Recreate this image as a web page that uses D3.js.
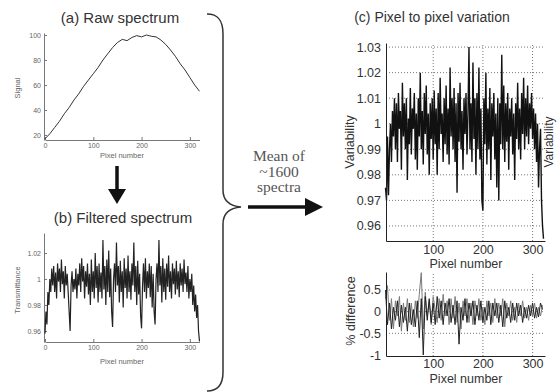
<!DOCTYPE html>
<html>
<head>
<meta charset="utf-8">
<script src="https://cdn.jsdelivr.net/npm/d3@7"></script>
<style>
  body { margin: 0; background: #fff; }
  svg { display: block; font-family: "Liberation Sans", Arial, sans-serif; }
</style>
</head>
<body>
<div id="fig"></div>
<script>
// ---- data ----
const rawStep = 10;   // pixel spacing of rawSignal samples
const rawSignal = [17, 21, 26, 31, 37, 42, 48, 53, 59, 64, 69, 74, 80, 85, 90, 94, 96.5, 95.5, 98,
  99.5, 98.5, 100, 99, 98.5, 96, 92.5, 88, 83, 77, 72, 66, 60, 55];
const rawTicksX = [0, 100, 200, 300];
const rawTicksY = [20, 40, 60, 80, 100];

const filtStep = 2;
const filtered = [0.958, 0.975, 0.965, 0.99, 0.98, 1.0, 0.99, 1.008, 0.995, 1.01, 0.99, 1.005, 0.985, 1.012, 0.998, 1.008,
  0.99, 1.015, 0.996, 1.006, 0.985, 1.01, 0.995, 1.004, 0.99, 0.975, 0.96, 0.995, 1.006, 0.99, 1.0, 0.992,
  1.008, 0.985, 1.004, 0.995, 1.012, 0.99, 1.016, 0.998, 1.01, 0.985, 1.006, 0.994, 1.012, 0.988, 1.004, 0.98,
  1.015, 0.99, 1.006, 0.985, 1.02, 0.993, 1.01, 0.982, 1.012, 0.99, 1.005, 0.985, 1.03, 0.992, 1.01, 0.98,
  1.015, 0.99, 1.022, 0.986, 1.008, 0.975, 0.963, 1.0, 1.012, 0.99, 1.028, 0.995, 1.01, 0.982, 1.014, 0.99,
  1.006, 0.978, 1.016, 0.993, 1.008, 0.985, 1.018, 0.99, 1.006, 0.984, 1.012, 0.995, 1.028, 0.99, 1.01, 0.98,
  1.014, 0.988, 1.004, 0.972, 0.962, 0.995, 1.012, 0.99, 1.016, 0.985, 1.006, 0.993, 1.012, 0.986, 1.01, 0.978,
  1.004, 0.975, 0.965, 1.0, 1.012, 0.99, 1.03, 0.995, 1.01, 0.982, 1.016, 0.99, 1.008, 0.984, 1.012, 0.994,
  1.018, 0.99, 1.006, 0.985, 1.012, 0.996, 1.008, 0.988, 1.014, 0.992, 1.006, 0.986, 1.012, 0.995, 1.008, 0.99,
  1.015, 0.996, 1.005, 0.99, 1.01, 0.985, 1.0, 0.99, 1.004, 0.98, 0.995, 0.975, 0.988, 0.97, 0.98, 0.96, 0.952];
const filtTicksY = [0.96, 0.98, 1, 1.02];

const varStart = 4, varStep = 2;
const variability = [0.975, 0.97, 0.995, 0.972, 0.99, 1.0, 0.985, 1.005, 0.995, 1.01, 0.99, 1.008, 0.985, 1.012, 0.998, 1.005,
  0.982, 1.016, 0.995, 1.008, 0.99, 1.01, 0.978, 1.002, 0.992, 1.014, 0.988, 1.006, 0.998, 1.012, 0.986, 1.004,
  0.982, 1.01, 0.995, 1.02, 0.99, 1.005, 0.984, 1.012, 0.996, 1.015, 0.988, 1.004, 0.98, 1.008, 0.994, 1.01,
  0.986, 1.013, 0.992, 1.006, 0.98, 1.012, 0.99, 1.018, 0.996, 1.004, 0.985, 1.01, 0.992, 1.015, 0.988, 1.006,
  0.984, 1.022, 0.995, 1.01, 0.99, 1.014, 0.985, 1.008, 0.973, 1.012, 0.993, 1.016, 0.99, 1.005, 0.982, 1.01,
  0.996, 1.012, 0.988, 1.004, 1.03, 0.99, 1.008, 0.985, 1.024, 0.994, 1.01, 0.98, 1.012, 0.99, 1.022, 0.986,
  1.006, 0.97, 0.966, 1.01, 0.992, 1.02, 0.984, 1.006, 0.99, 1.014, 0.978, 1.008, 0.995, 1.012, 0.986, 1.004,
  0.975, 1.01, 0.97, 1.008, 0.992, 1.027, 0.99, 1.015, 0.985, 1.008, 0.993, 1.012, 0.982, 1.006, 0.995, 1.01,
  0.988, 1.004, 0.978, 1.008, 0.994, 1.016, 0.99, 1.006, 0.986, 1.012, 0.996, 1.018, 0.99, 1.01, 0.995, 1.015,
  0.992, 1.008, 0.998, 1.012, 0.994, 1.006, 0.99, 1.004, 0.985, 1.0, 0.975, 0.99, 0.998, 0.97, 0.96, 0.955];
const varTicksY = [0.96, 0.97, 0.98, 0.99, 1, 1.01, 1.02, 1.03];
const pixTicks = [100, 200, 300];

const diffStart = 4, diffStep = 4;
const diffDark = [0.5, -0.3, 0.2, -0.4, 0.1, -0.2, 0.25, -0.35, 0.15, -0.25, 0.1, -0.45, 0.2, -0.3, 0.05, -0.35,
  0.25, -0.6, 0.3, -1.0, 0.35, -0.2, 0.3, -0.25, 0.2, -0.3, 0.35, -0.15, 0.25, -0.3, 0.2, -0.1,
  0.3, -0.25, 0.15, -0.3, 0.25, -0.75, 0.1, -0.2, 0.3, -0.25, 0.2, -0.1, 0.25, -0.3, 0.15, -0.2,
  0.25, -0.25, 0.1, -0.2, 0.25, -0.3, 0.2, -0.1, 0.2, -0.25, 0.15, -0.35, 0.25, -0.15, 0.1, -0.25,
  0.2, -0.2, 0.2, -0.1, 0.15, -0.25, 0.1, -0.15, 0.15, -0.1, 0.2, -0.15, 0.1, -0.12, 0.2, 0.05];
const diffGray = [0.3, 0.6, -0.2, 0.3, -0.4, 0.25, -0.1, 0.35, -0.45, 0.2, -0.2, 0.3, -0.25, 0.2, -0.35, 0.25,
  -0.15, 0.4, 0.9, -0.4, 0.45, -0.1, 0.25, -0.3, 0.35, 0.05, -0.25, 0.3, -0.2, 0.4, -0.1, 0.25,
  -0.3, 0.3, -0.15, 0.35, -0.25, 0.2, -0.4, 0.25, -0.1, 0.3, -0.25, 0.2, -0.3, 0.25, -0.1, 0.3,
  -0.2, 0.1, -0.3, 0.25, -0.1, 0.2, -0.25, 0.3, -0.15, 0.2, -0.1, 0.3, -0.35, 0.2, -0.1, 0.25,
  -0.2, 0.1, -0.25, 0.2, -0.1, 0.25, -0.15, 0.1, -0.2, 0.15, -0.1, 0.2, -0.15, 0.1, -0.1, 0.15];
const diffTicksY = [-1, -0.5, 0, 0.5];

// ---- svg ----
let width = 557, height = 392;
let svg = d3.select("#fig").append("svg")
  .attr("width", width)
  .attr("height", height);

let plain = d => String(d);

function styleSmallAxis(g) {
  g.selectAll("path, line").attr("stroke", "#777");
  g.selectAll("text").attr("font-size", 7).attr("fill", "#666");
}

function styleBigAxis(g) {
  g.selectAll("path").attr("stroke", "#222");
  g.selectAll("text").attr("font-size", 12.5).attr("fill", "#333");
}

// ---------- (a) raw spectrum ----------
let xa = d3.scaleLinear().domain([0, 320]).range([45, 199.5]);
let ya = d3.scaleLinear().domain([16, 101.6]).range([140, 33]);

svg.append("g").attr("transform", "translate(0,140)")
  .call(d3.axisBottom(xa).tickValues(rawTicksX).tickFormat(plain).tickSize(-3).tickSizeOuter(0).tickPadding(3))
  .call(styleSmallAxis);
svg.append("g").attr("transform", "translate(44,0)")
  .call(d3.axisLeft(ya).tickValues(rawTicksY).tickFormat(plain).tickSize(-3).tickSizeOuter(0).tickPadding(3))
  .call(styleSmallAxis);

svg.append("path")
  .datum(rawSignal)
  .attr("fill", "none")
  .attr("stroke", "#333")
  .attr("stroke-width", 1)
  .attr("d", d3.line().x((d, i) => xa(i * rawStep)).y(d => ya(d)));

svg.append("text").attr("x", 120).attr("y", 23).attr("text-anchor", "middle")
  .attr("font-size", 15).attr("fill", "#333").text("(a) Raw spectrum");
svg.append("text").attr("x", 122).attr("y", 158).attr("text-anchor", "middle")
  .attr("font-size", 7.5).attr("fill", "#666").text("Pixel number");
svg.append("text").attr("transform", "translate(20,88) rotate(-90)").attr("text-anchor", "middle")
  .attr("font-size", 7.5).attr("fill", "#666").text("Signal");

// down arrow
svg.append("line").attr("x1", 117).attr("x2", 117).attr("y1", 166).attr("y2", 191)
  .attr("stroke", "#111").attr("stroke-width", 3.5);
svg.append("path").attr("d", "M108,189 L126,189 L117,204 Z").attr("fill", "#111");

// ---------- (b) filtered spectrum ----------
let xb = d3.scaleLinear().domain([0, 320]).range([45, 199.5]);
let yb = d3.scaleLinear().domain([0.9515, 1.0354]).range([342, 233]);

svg.append("g").attr("transform", "translate(0,342)")
  .call(d3.axisBottom(xb).tickValues(rawTicksX).tickFormat(plain).tickSize(-3).tickSizeOuter(0).tickPadding(3))
  .call(styleSmallAxis);
svg.append("g").attr("transform", "translate(44,0)")
  .call(d3.axisLeft(yb).tickValues(filtTicksY).tickFormat(plain).tickSize(-3).tickSizeOuter(0).tickPadding(3))
  .call(styleSmallAxis);

svg.append("path")
  .datum(filtered)
  .attr("fill", "none")
  .attr("stroke", "#222")
  .attr("stroke-width", 1.2)
  .attr("d", d3.line().x((d, i) => xb(i * filtStep)).y(d => yb(d)));

svg.append("text").attr("x", 123).attr("y", 223).attr("text-anchor", "middle")
  .attr("font-size", 15).attr("fill", "#333").text("(b) Filtered spectrum");
svg.append("text").attr("x", 122).attr("y", 364).attr("text-anchor", "middle")
  .attr("font-size", 7.5).attr("fill", "#666").text("Pixel number");
svg.append("text").attr("transform", "translate(20,290) rotate(-90)").attr("text-anchor", "middle")
  .attr("font-size", 7.5).attr("fill", "#666").text("Transmittance");

// ---------- brace + arrow ----------
svg.append("path")
  .attr("d", "M207,14 C218,14 223,20 223,34 L223,190 C223,201 230,206 241,207 C230,208 223,213 223,224 L223,372 C223,385 218,391 207,391")
  .attr("fill", "none").attr("stroke", "#333").attr("stroke-width", 1.5);

svg.append("line").attr("x1", 248).attr("x2", 308).attr("y1", 207).attr("y2", 207)
  .attr("stroke", "#111").attr("stroke-width", 3.5);
svg.append("path").attr("d", "M305,198 L323,207 L305,216 Z").attr("fill", "#111");

const meanLines = ["Mean of", "~1600", "spectra"];
svg.append("g").selectAll("text")
  .data(meanLines)
  .join("text")
  .attr("x", 279)
  .attr("y", (d, i) => 161 + i * 15.5)
  .attr("text-anchor", "middle")
  .attr("font-family", "'Liberation Serif', 'Times New Roman', serif")
  .attr("font-size", 15.5)
  .attr("fill", "#555")
  .text(d => d);

// ---------- (c) pixel to pixel variation ----------
let xc = d3.scaleLinear().domain([5, 325]).range([386, 545]);
let yc = d3.scaleLinear().domain([0.9541, 1.0316]).range([241, 43]);

let gridC = svg.append("g");
gridC.selectAll("line.h")
  .data(varTicksY)
  .join("line")
  .attr("class", "h")
  .attr("x1", xc.range()[0]).attr("x2", xc.range()[1])
  .attr("y1", d => yc(d)).attr("y2", d => yc(d));
gridC.selectAll("line.v")
  .data(pixTicks)
  .join("line")
  .attr("class", "v")
  .attr("x1", d => xc(d)).attr("x2", d => xc(d))
  .attr("y1", yc.range()[0]).attr("y2", yc.range()[1]);
gridC.selectAll("line").attr("stroke", "#777").attr("stroke-width", 1).attr("stroke-dasharray", "1,2");

svg.append("path")
  .datum(variability)
  .attr("fill", "none")
  .attr("stroke", "#111")
  .attr("stroke-width", 1.4)
  .attr("d", d3.line().x((d, i) => xc(varStart + i * varStep)).y(d => yc(d)));

svg.append("g").attr("transform", "translate(0,241)")
  .call(d3.axisBottom(xc).tickValues(pixTicks).tickFormat(plain).tickSize(0).tickSizeOuter(0).tickPadding(4))
  .call(styleBigAxis);
svg.append("g").attr("transform", "translate(386,0)")
  .call(d3.axisLeft(yc).tickValues(varTicksY).tickFormat(plain).tickSize(0).tickSizeOuter(0).tickPadding(5))
  .call(styleBigAxis);

svg.append("text").attr("x", 432).attr("y", 22).attr("text-anchor", "middle")
  .attr("font-size", 14).attr("fill", "#333").text("(c) Pixel to pixel variation");
svg.append("text").attr("x", 466).attr("y", 268).attr("text-anchor", "middle")
  .attr("font-size", 12.5).attr("fill", "#333").text("Pixel number");
svg.append("text").attr("transform", "translate(354,142) rotate(-90)").attr("text-anchor", "middle")
  .attr("font-size", 12.5).attr("fill", "#333").text("Variability");
// label of the neighbouring panel at the right edge
svg.append("text").attr("transform", "translate(553,142) rotate(-90)").attr("text-anchor", "middle")
  .attr("font-size", 12).attr("fill", "#333").text("Variability");

// ---------- (d) % difference ----------
let yd = d3.scaleLinear().domain([-1.023, 0.915]).range([356, 272]);

let gridD = svg.append("g");
gridD.selectAll("line.h")
  .data(diffTicksY.filter(d => d > -1))
  .join("line")
  .attr("class", "h")
  .attr("x1", xc.range()[0]).attr("x2", xc.range()[1])
  .attr("y1", d => yd(d)).attr("y2", d => yd(d));
gridD.selectAll("line.v")
  .data(pixTicks)
  .join("line")
  .attr("class", "v")
  .attr("x1", d => xc(d)).attr("x2", d => xc(d))
  .attr("y1", yd.range()[0]).attr("y2", yd.range()[1]);
gridD.selectAll("line").attr("stroke", "#777").attr("stroke-width", 1).attr("stroke-dasharray", "1,2");

let lineD = d3.line().x((d, i) => xc(diffStart + i * diffStep)).y(d => yd(d));
svg.append("path").datum(diffGray)
  .attr("fill", "none").attr("stroke", "#7a7a7a").attr("stroke-width", 1)
  .attr("d", lineD);
svg.append("path").datum(diffDark)
  .attr("fill", "none").attr("stroke", "#222").attr("stroke-width", 1)
  .attr("d", lineD);

svg.append("g").attr("transform", "translate(0,356)")
  .call(d3.axisBottom(xc).tickValues(pixTicks).tickFormat(plain).tickSize(0).tickSizeOuter(0).tickPadding(3))
  .call(styleBigAxis);
svg.append("g").attr("transform", "translate(386,0)")
  .call(d3.axisLeft(yd).tickValues(diffTicksY).tickFormat(plain).tickSize(0).tickSizeOuter(0).tickPadding(5))
  .call(styleBigAxis);

svg.append("text").attr("x", 466).attr("y", 383).attr("text-anchor", "middle")
  .attr("font-size", 12.5).attr("fill", "#333").text("Pixel number");
svg.append("text").attr("transform", "translate(355,311) rotate(-90)").attr("text-anchor", "middle")
  .attr("font-size", 12.5).attr("fill", "#333").text("% difference");
</script>
</body>
</html>
